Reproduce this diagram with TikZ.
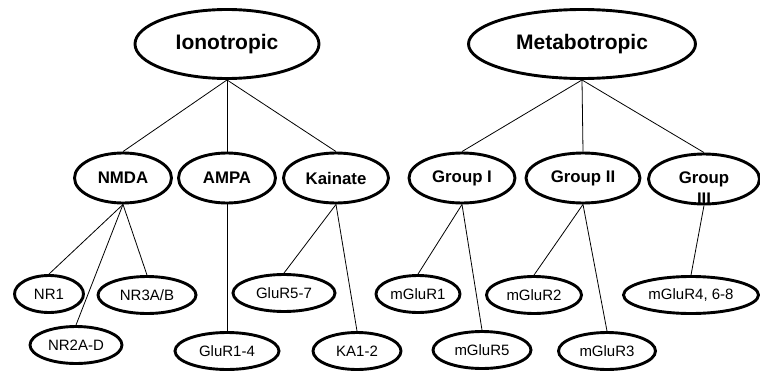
\documentclass[tikz,border=0pt]{standalone}
\usepackage{fontspec}
\setmainfont{Liberation Sans}
\usetikzlibrary{shapes.geometric}

\tikzset{
    rootnode/.style={ellipse, draw, line width=2.9pt, minimum width=#1, minimum height=69pt,
        inner sep=0pt, font=\fontsize{21}{24}\selectfont\bfseries},
    groupnode/.style={ellipse, draw, line width=2.9pt, minimum width=#1, minimum height=50pt,
        inner sep=0pt, font=\fontsize{16.8}{19}\selectfont\bfseries},
    leafnode/.style={ellipse, draw, line width=2.9pt, minimum width=#1, minimum height=37pt,
        inner sep=0pt, font=\fontsize{15}{17}\selectfont},
    edge/.style={line width=0.8pt}
}

\begin{document}
\begin{tikzpicture}[x=1pt,y=-1pt]
    \useasboundingbox (0,0) rectangle (760,372);

    % receptor families
    \node [rootnode=184pt] (ion) at (227,44) {Ionotropic};
    \node [rootnode=227pt] (met) at (582,44) {Metabotropic};

    % subtypes
    \node [groupnode=97pt]  (nmda) at (123,178) {NMDA};
    \node [groupnode=97pt]  (ampa) at (227,178) {AMPA};
    \node [groupnode=105pt] (kai)  at (336,178) {Kainate};
    \node [groupnode=106pt] (gI)   at (462,178) {Group I};
    \node [groupnode=114pt] (gII)  at (583,178) {Group II};
    \node [groupnode=111pt] (gIII) at (704,179) {Group};
    \node [font=\fontsize{16.8}{19}\selectfont\bfseries, inner sep=0pt] (gIIIb) at (704,199) {III};

    % subunits
    \node [leafnode=69pt]  (nr1)   at (49,294)  {NR1};
    \node [leafnode=92pt]  (nr2)   at (76,345)  {NR2A-D};
    \node [leafnode=98pt]  (nr3)   at (147,295) {NR3A/B};
    \node [leafnode=104pt] (glua)  at (227,351) {GluR1-4};
    \node [leafnode=102pt] (glub)  at (284,293) {GluR5-7};
    \node [leafnode=88pt]  (ka)    at (357,351) {KA1-2};
    \node [leafnode=84pt]  (mg1)   at (418,294) {mGluR1};
    \node [leafnode=98pt]  (mg5)   at (482,350) {mGluR5};
    \node [leafnode=95pt]  (mg2)   at (534,295) {mGluR2};
    \node [leafnode=97pt]  (mg3)   at (607,351) {mGluR3};
    \node [leafnode=135pt] (mg4)   at (691,295) {mGluR4, 6-8};

    \foreach \a/\b in {ion/nmda, ion/ampa, ion/kai, met/gI, met/gII, met/gIII,
                       nmda/nr1, nmda/nr2, nmda/nr3, ampa/glua, kai/glub, kai/ka,
                       gI/mg1, gI/mg5, gII/mg2, gII/mg3, gIII/mg4} {
        \draw [edge] (\a.south) -- (\b.north);
    }
\end{tikzpicture}
\end{document}
